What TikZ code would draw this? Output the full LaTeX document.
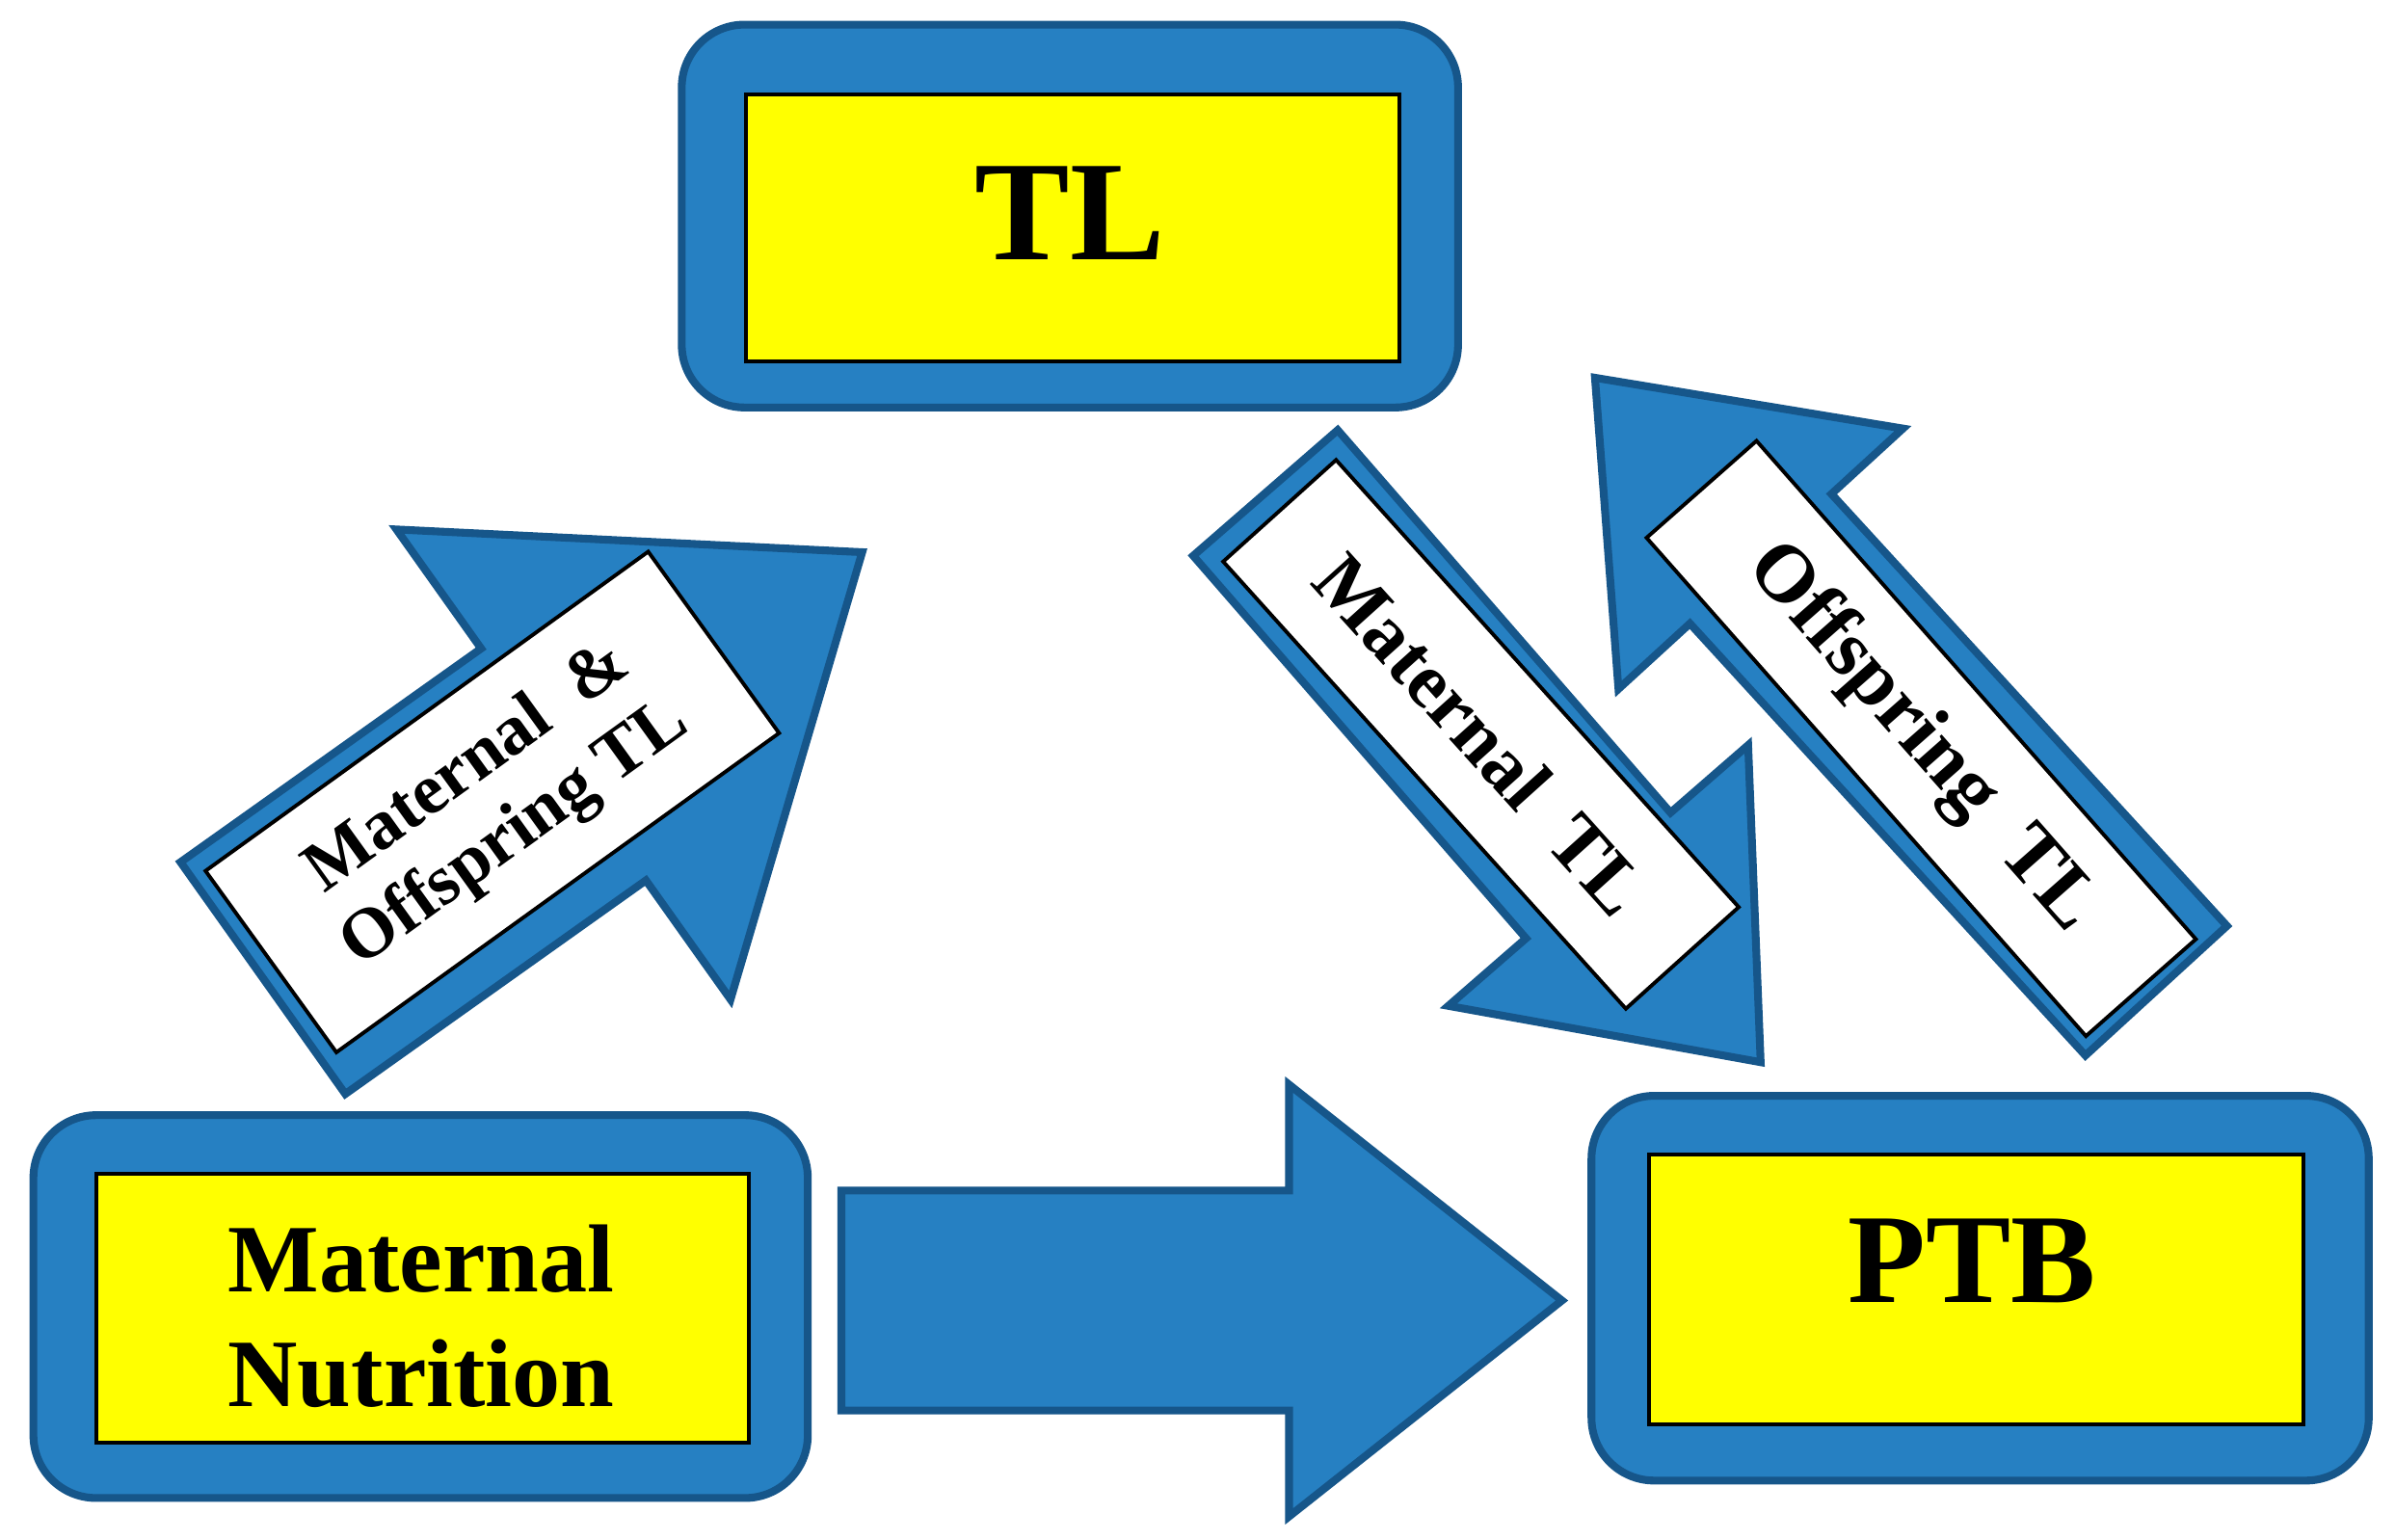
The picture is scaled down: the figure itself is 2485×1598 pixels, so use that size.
\documentclass[tikz,border=0pt]{standalone}
\usepackage{fontspec}
\setmainfont{Liberation Serif}
\usetikzlibrary{calc}
\definecolor{bfill}{RGB}{38,128,194}
\definecolor{bline}{RGB}{22,86,138}
\definecolor{ybox}{RGB}{255,255,0}
\tikzset{
  outerbox/.style={draw=bline, fill=bfill, line width=2.3pt, rounded corners=0.65cm, inner sep=0pt},
  innerbox/.style={draw=black, fill=ybox, line width=1.1pt, inner sep=0pt},
  boxtext/.style={font=\bfseries, inner sep=0pt, align=center},
  blockarrow/.style={draw=bline, fill=bfill, line width=2.3pt, line join=miter},
  labelbox/.style={draw=black, fill=white, line width=1.1pt, inner sep=0pt, align=center}
}
% tail, tip, shaft half width, head half width, head length
\newcommand{\BlockArr}[5]{%
  \coordinate (#1-h) at ($(#2)!#5!(#1)$);
  \draw[blockarrow] ($(#1)!#3!90:(#2)$) -- ($(#1-h)!#3!90:(#2)$) -- ($(#1-h)!#4!90:(#2)$)
    -- (#2) -- ($(#1-h)!#4!-90:(#2)$) -- ($(#1-h)!#3!-90:(#2)$) -- ($(#1)!#3!-90:(#2)$) -- cycle;
}
\begin{document}
\begin{tikzpicture}[x=0.01cm, y=-0.01cm]
\useasboundingbox (0,0) rectangle (2485,1598);

% boxes
\node[outerbox, minimum width=8.05cm, minimum height=3.97cm] (tlo) at (1110.1,224.2) {};
\node[innerbox, minimum width=6.776cm, minimum height=2.767cm] (tli) at (1112.8,236.7) {};
\node[boxtext, font=\fontsize{42}{48}\selectfont\bfseries] (tlt) at (1110,221) {TL};

\node[outerbox, minimum width=8.03cm, minimum height=3.97cm] (mno) at (436.4,1355.8) {};
\node[innerbox, minimum width=6.773cm, minimum height=2.784cm] (mni) at (438.5,1357.5) {};
\node[boxtext, font=\fontsize{28.5}{34}\selectfont\bfseries] (mnt) at (437,1366) {Maternal\\Nutrition};

\node[outerbox, minimum width=8.06cm, minimum height=3.99cm] (ptbo) at (2054.5,1336.7) {};
\node[innerbox, minimum width=6.786cm, minimum height=2.80cm] (ptbi) at (2050.3,1338.3) {};
\node[boxtext, font=\fontsize{37.6}{44}\selectfont\bfseries] (ptbt) at (2046,1308) {PTB};

% horizontal arrow
\coordinate (a0t) at (873,1349.5);
\coordinate (a0p) at (1620.6,1349.5);
\BlockArr{a0t}{a0p}{1.14cm}{2.24cm}{2.83cm}

% arrow 1: Maternal Nutrition -> TL
\coordinate (a1t) at (272.8,1014.9);
\coordinate (a1p) at (894.6,573);
\BlockArr{a1t}{a1p}{1.475cm}{2.99cm}{3.80cm}
\node[labelbox, rotate=35.8, minimum width=5.66cm, minimum height=2.32cm,
      font=\fontsize{21}{24}\selectfont\bfseries] (l1) at (510.8,832.2) {Maternal~~\&\\Offspring TL};

% arrow 2: TL -> PTB
\coordinate (a2t) at (1313,511.5);
\coordinate (a2p) at (1826.8,1102.2);
\BlockArr{a2t}{a2p}{0.993cm}{2.06cm}{2.566cm}
\node[labelbox, rotate=-48, minimum width=6.24cm, minimum height=1.575cm,
      font=\fontsize{23}{26}\selectfont\bfseries] (l2) at (1536.6,762) {Maternal~~TL};

% arrow 3: PTB -> TL
\coordinate (a3t) at (2237.2,1028);
\coordinate (a3p) at (1654.9,392);
\BlockArr{a3t}{a3p}{0.995cm}{2.0cm}{2.545cm}
\node[labelbox, rotate=-48.6, minimum width=6.89cm, minimum height=1.52cm,
      font=\fontsize{24}{27}\selectfont\bfseries] (l3) at (1993.4,766.3) {Offspring~~TL};
\end{tikzpicture}
\end{document}
